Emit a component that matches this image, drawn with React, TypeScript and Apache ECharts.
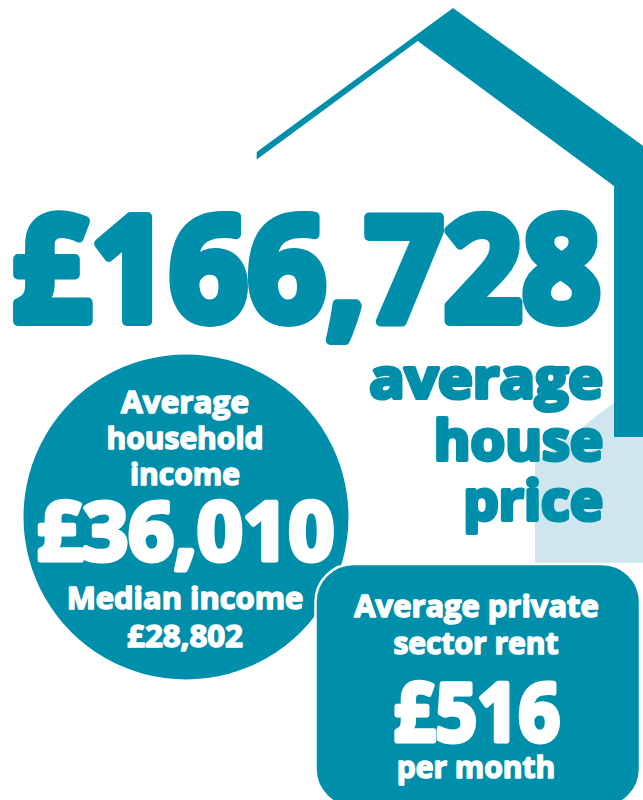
import React, { useEffect, useRef } from "react";
import * as echarts from "echarts";

const TEAL = "#008FAB";
const LIGHT = "#CFE6EE";
const WHITE = "#FFFFFF";
const FONT = "'Open Sans'";

const headlineValue = "£166,728";
const headlineLabel = ["average", "house", "price"];
const incomeLabel = ["Average", "household", "income"];
const incomeValue = "£36,010";
const medianLabel = ["Median income", "£28,802"];
const rentLabel = ["Average private", "sector rent"];
const rentValue = "£516";
const rentUnit = "per month";

type T = { text: string; x: number; y: number; size: number; fill: string; sw: number; sx?: number; align?: string; w?: number };

function txt(t: T) {
  return {
    type: "text",
    x: t.x,
    y: t.y,
    scaleX: t.sx ?? 1,
    z: 10,
    style: {
      text: t.text,
      x: 0,
      y: 0,
      font: `${t.w ?? 700} ${t.size}px ${FONT}`,
      fill: t.fill,
      stroke: t.fill,
      lineWidth: t.sw,
      textAlign: t.align ?? "center",
      textVerticalAlign: "middle",
    },
  };
}

export default function App() {
  const ref = useRef<HTMLDivElement>(null);
  useEffect(() => {
    if (!ref.current) return;
    const chart = echarts.init(ref.current, null, { renderer: "svg" });
    const css = document.createElement("style");
    css.textContent = "svg text,svg tspan{stroke-linejoin:round;stroke-linecap:round}";
    document.head.appendChild(css);
    document.body.style.margin = "0";
    chart.setOption({
      animation: false,
      backgroundColor: "#fff",
      graphic: [
        { type: "polygon", z: 1, shape: { points: [[535, 463], [615, 402], [643, 402], [643, 563], [535, 563]] }, style: { fill: LIGHT } },
        { type: "polygon", z: 2, shape: { points: [[453, 8], [643, 145.7], [643, 437], [614, 437], [614, 186], [417.7, 41], [256.7, 159.5], [256.7, 152]] }, style: { fill: TEAL } },
        { type: "circle", z: 3, shape: { cx: 186, cy: 517, r: 162.5 }, style: { fill: TEAL } },
        { type: "rect", z: 4, shape: { x: 315.5, y: 564, width: 324.5, height: 243, r: 38 }, style: { fill: TEAL, stroke: WHITE, lineWidth: 2.5 } },
        txt({ text: headlineValue, x: 306.5, y: 265, size: 146, fill: TEAL, sw: 10, sx: 0.94 }),
        txt({ text: headlineLabel[0], x: 603, y: 377, size: 56, fill: TEAL, sw: 4, sx: 1.05, align: "right" }),
        txt({ text: headlineLabel[1], x: 603, y: 438, size: 56, fill: TEAL, sw: 4, align: "right" }),
        txt({ text: headlineLabel[2], x: 603, y: 498, size: 56, fill: TEAL, sw: 4, align: "right" }),
        txt({ text: incomeLabel[0], x: 185, y: 401, size: 30, fill: WHITE, sw: 1.5, sx: 1.05 }),
        txt({ text: incomeLabel[1], x: 185, y: 437, size: 30, fill: WHITE, sw: 1.5, sx: 1.0 }),
        txt({ text: incomeLabel[2], x: 185, y: 473, size: 30, fill: WHITE, sw: 1.5 }),
        txt({ text: incomeValue, x: 185.5, y: 528, size: 80, fill: WHITE, sw: 5, sx: 1.0 }),
        txt({ text: medianLabel[0], x: 185, y: 597, size: 30, fill: WHITE, sw: 1.5, sx: 1.03 }),
        txt({ text: medianLabel[1], x: 185, y: 635, size: 30, fill: WHITE, sw: 1.5, sx: 1.04 }),
        txt({ text: rentLabel[0], x: 476.5, y: 605, size: 30, fill: WHITE, sw: 1.5, sx: 1.03 }),
        txt({ text: rentLabel[1], x: 476, y: 642, size: 30, fill: WHITE, sw: 1.5 }),
        txt({ text: rentValue, x: 477, y: 710, size: 80, fill: WHITE, sw: 5, sx: 0.91 }),
        txt({ text: rentUnit, x: 476, y: 766, size: 30, fill: WHITE, sw: 1.5 }),
      ],
    });
    return () => {
      chart.dispose();
      css.remove();
    };
  }, []);
  return <div ref={ref} style={{ position: "absolute", left: 0, top: 0, width: 643, height: 800 }} />;
}
